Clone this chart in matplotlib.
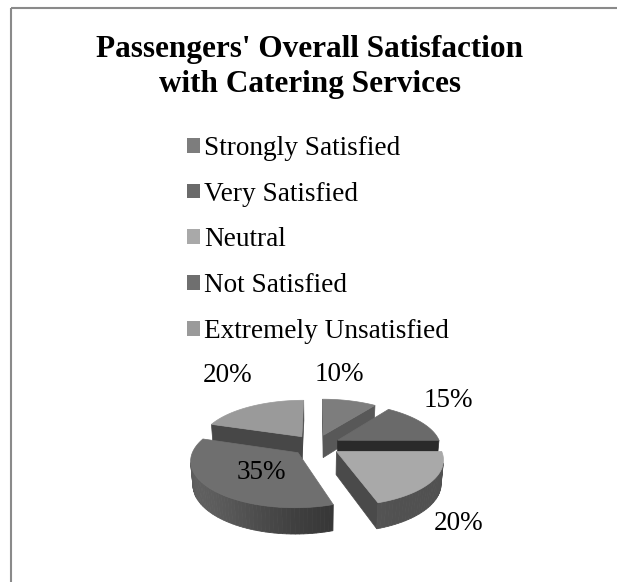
import numpy as np
import matplotlib.pyplot as plt
from matplotlib.patches import Polygon, Rectangle, Patch
from matplotlib.colors import to_rgb

plt.rcParams['font.family'] = ['Liberation Serif', 'DejaVu Serif']

title_lines = ["Passengers' Overall Satisfaction", "with Catering Services"]
categories = ['Strongly Satisfied', 'Very Satisfied', 'Neutral',
              'Not Satisfied', 'Extremely Unsatisfied']
shares = [10, 15, 20, 35, 20]

# top face / cut face greys for each slice
top_colors = ['#7d7d7d', '#6a6a6a', '#a9a9a9', '#6f6f6f', '#9a9a9a']
cut_colors = ['#585858', '#2a2a2a', '#4a4a4a', '#404040', '#474747']
# where the % labels sit: radius on the pie, then a nudge in pixels (y up)
label_radius = [1.0, 1.0, 1.0, 0.5, 1.0]
label_shift = [(-10, 26), (27, 22), (26, -42), (4, -2), (-23, 31)]

W, H = 617, 582
fig = plt.figure(figsize=(W / 100, H / 100), dpi=100)
ax = fig.add_axes([0, 0, 1, 1])
ax.set_xlim(0, W)
ax.set_ylim(H, 0)
ax.axis('off')

# chart frame
ax.add_patch(Rectangle((11, 8), 1000, 1000, fill=False, ec='#8a8a8a', lw=1.5))

# title
ax.text(310, 57, title_lines[0], ha='center', va='baseline',
        fontsize=22.5, fontweight='bold')
ax.text(310, 92, title_lines[1], ha='center', va='baseline',
        fontsize=22.5, fontweight='bold')

# legend
handles = [Patch(fc=c, ec='none') for c in top_colors]
ax.legend(handles, categories, loc='upper left', bbox_to_anchor=(187, 136),
          bbox_transform=ax.transData, frameon=False, fontsize=19.6,
          handlelength=0.47, handleheight=0.47, handletextpad=0.15,
          labelspacing=0.76, borderpad=0, borderaxespad=0)

# camera looking down on the pie (perspective)
cam_dist, elev, focal = 6.0, np.radians(25.4), 618
cx, cy = 316, 445
explode, thick = 0.24, 0.25
se, ce = np.sin(elev), np.cos(elev)
cam = np.array([0.0, -cam_dist * ce, cam_dist * se])


def project(p):
    p = np.atleast_2d(np.asarray(p, dtype=float))
    X, Y, Z = p[:, 0], p[:, 1], p[:, 2]
    w = cam_dist + Y * ce - Z * se
    u = Y * se + Z * ce
    return np.column_stack([cx + focal * X / w, cy - focal * u / w])


def facing(normal, point):
    return np.dot(normal, cam - point) > 0


def shade(color, k):
    return tuple(np.array(to_rgb(color)) * k)


edges = np.cumsum([0] + shares) / sum(shares) * 2 * np.pi
slices = []
for i in range(len(shares)):
    a1, a2 = edges[i], edges[i + 1]
    mid = (a1 + a2) / 2
    off = explode * np.array([np.sin(mid), np.cos(mid), 0.0])
    slices.append((a1, a2, mid, off))


def dist(i):
    a1, a2, mid, off = slices[i]
    c = off + 0.5 * np.array([np.sin(mid), np.cos(mid), 0.0])
    return np.linalg.norm(cam - c)


order = sorted(range(len(shares)), key=dist, reverse=True)
down = np.array([0, 0, thick])

z = 2
for i in order:
    a1, a2, mid, off = slices[i]
    th = np.linspace(a1, a2, max(int(np.degrees(a2 - a1) / 2), 2) + 1)
    rim = off + np.column_stack([np.sin(th), np.cos(th), np.zeros_like(th)])
    low = rim - down

    # flat cut faces
    for ang, sign in ((a1, -1), (a2, 1)):
        n = sign * np.array([np.cos(ang), -np.sin(ang), 0.0])
        edge = off + np.array([np.sin(ang), np.cos(ang), 0.0])
        if facing(n, (off + edge) / 2 - down / 2):
            quad = [off, edge, edge - down, off - down]
            ax.add_patch(Polygon(project(quad), closed=True, fc=cut_colors[i],
                                 ec=cut_colors[i], lw=0.5, zorder=z))

    # curved outer wall
    for j in range(len(th) - 1):
        tm = (th[j] + th[j + 1]) / 2
        n = np.array([np.sin(tm), np.cos(tm), 0.0])
        if facing(n, off + n):
            k = 0.48 + 0.38 * max(0.0, np.cos(tm - np.radians(240))) ** 2
            col = shade(top_colors[i], k)
            quad = [rim[j], rim[j + 1], low[j + 1], low[j]]
            ax.add_patch(Polygon(project(quad), closed=True, fc=col, ec=col,
                                 lw=0.6, zorder=z))

    top = np.vstack([off, rim])
    ax.add_patch(Polygon(project(top), closed=True, fc=top_colors[i],
                         ec=top_colors[i], lw=0.5, zorder=z + 0.5))
    z += 1

# percentage labels
for i in range(len(shares)):
    mid = slices[i][2]
    r = explode + label_radius[i]
    anchor = project([r * np.sin(mid), r * np.cos(mid), 0.0])[0]
    ax.annotate(f'{shares[i]}%', anchor, xytext=label_shift[i],
                textcoords='offset pixels', ha='center', va='center',
                fontsize=19.5, zorder=20)

fig.savefig('out.png', dpi=100)
